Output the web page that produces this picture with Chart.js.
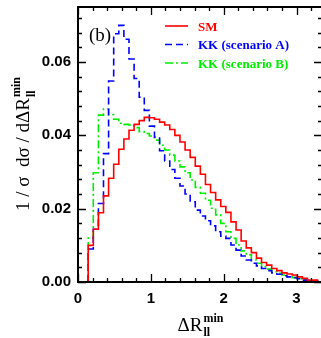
<!DOCTYPE html>
<html>
<head>
<meta charset="utf-8">
<script src="https://cdn.jsdelivr.net/npm/chart.js@4.4.1/dist/chart.umd.min.js"></script>
<style>
html, body { margin: 0; padding: 0; background: #fff; overflow: hidden; }
</style>
</head>
<body>
<canvas id="chart" width="325" height="338"></canvas>
<script>
// histogram bin edges (Delta R_ll^min)
var binEdges = [0.14, 0.21, 0.28, 0.35, 0.42, 0.49, 0.56, 0.63, 0.70, 0.77,
    0.84, 0.91, 0.98, 1.05, 1.12, 1.19, 1.26, 1.33, 1.40, 1.47,
    1.54, 1.61, 1.68, 1.75, 1.82, 1.89, 1.96, 2.03, 2.10, 2.17,
    2.24, 2.31, 2.38, 2.45, 2.52, 2.59, 2.66, 2.73, 2.80, 2.87,
    2.94, 3.01, 3.08, 3.15, 3.22, 3.29];

var smValues = [0.0010, 0.0100, 0.0144, 0.0189, 0.0235, 0.0283, 0.0321, 0.0362, 0.0390, 0.0414,
    0.0430, 0.0440, 0.0449, 0.0448, 0.0444, 0.0436, 0.0428, 0.0416, 0.0400, 0.0382,
    0.0360, 0.0340, 0.0316, 0.0294, 0.0266, 0.0244, 0.0224, 0.0206, 0.0190, 0.0164,
    0.0142, 0.0112, 0.0093, 0.0080, 0.0065, 0.0053, 0.0046, 0.0037, 0.0031, 0.0025,
    0.0022, 0.0019, 0.0014, 0.0010, 0.0005];

var kkAValues = [0.0010, 0.0090, 0.0144, 0.0214, 0.0350, 0.0548, 0.0677, 0.0700, 0.0662, 0.0608,
    0.0555, 0.0504, 0.0468, 0.0425, 0.0395, 0.0358, 0.0330, 0.0307, 0.0283, 0.0262,
    0.0240, 0.0219, 0.0196, 0.0180, 0.0167, 0.0153, 0.0137, 0.0125, 0.0119, 0.0101,
    0.0087, 0.0071, 0.0060, 0.0051, 0.0044, 0.0037, 0.0031, 0.0025, 0.0021, 0.0017,
    0.0014, 0.0012, 0.0009, 0.0005, 0.0003];

var kkBValues = [0.0010, 0.0120, 0.0298, 0.0455, 0.0472, 0.0456, 0.0444, 0.0433, 0.0430, 0.0428,
    0.0421, 0.0410, 0.0405, 0.0398, 0.0387, 0.0373, 0.0360, 0.0346, 0.0330, 0.0314,
    0.0298, 0.0278, 0.0258, 0.0242, 0.0223, 0.0201, 0.0183, 0.0160, 0.0137, 0.0119,
    0.0101, 0.0085, 0.0074, 0.0060, 0.0051, 0.0042, 0.0035, 0.0028, 0.0024, 0.0019,
    0.0014, 0.0012, 0.0009, 0.0005, 0.0003];

var seriesNames = ["SM", "KK (scenario A)", "KK (scenario B)"];
var seriesColors = ["#ff0000", "#0000ff", "#00ee00"];
var seriesDash = [[], [7, 4], [8, 3, 2, 3]];

var xTicks = [0, 1, 2, 3];
var yTicks = [0, 0.02, 0.04, 0.06];

function hist_points(values) {
    // step outline: rise at first edge, drop at last edge
    var pts = [{x: binEdges[0], y: 0}];
    for (var i = 0; i < values.length; i++) {
        pts.push({x: binEdges[i], y: values[i]});
    }
    pts.push({x: binEdges[values.length], y: values[values.length - 1]});
    pts.push({x: binEdges[values.length], y: 0});
    return pts;
}

function make_dataset(idx, values) {
    return {
        label: seriesNames[idx],
        data: hist_points(values),
        borderColor: seriesColors[idx],
        borderWidth: 1.6,
        borderDash: seriesDash[idx],
        stepped: 'after',
        pointRadius: 0,
        fill: false
    };
}

var SERIF = '"Liberation Serif", "Times New Roman", serif';

var framePlugin = {
    id: 'frame',
    afterDraw: function(chart) {
        var ctx = chart.ctx;
        var a = chart.chartArea;
        var xs = chart.scales.x, ys = chart.scales.y;
        ctx.save();
        ctx.strokeStyle = '#000';
        ctx.lineWidth = 1.3;
        // x ticks, inward on bottom and top
        for (var k = 0; k <= 16; k++) {
            var v = k * 0.2;
            var px = Math.round(xs.getPixelForValue(v)) + 0.5;
            var len = (k % 5 == 0) ? 8 : 4;
            ctx.beginPath();
            ctx.moveTo(px, a.bottom); ctx.lineTo(px, a.bottom - len);
            ctx.moveTo(px, a.top); ctx.lineTo(px, a.top + len);
            ctx.stroke();
        }
        // y ticks, inward on left and right
        for (var j = 0; j <= 18; j++) {
            var py = Math.round(ys.getPixelForValue(j * 0.004)) + 0.5;
            var l2 = (j % 5 == 0) ? 8 : 4;
            ctx.beginPath();
            ctx.moveTo(a.left, py); ctx.lineTo(a.left + l2, py);
            ctx.moveTo(a.right, py); ctx.lineTo(a.right - l2, py);
            ctx.stroke();
        }
        ctx.lineWidth = 2;
        ctx.strokeRect(a.left, a.top, a.right - a.left, a.bottom - a.top);

        // panel label
        ctx.fillStyle = '#000';
        ctx.font = '19px ' + SERIF;
        ctx.textBaseline = 'alphabetic';
        ctx.textAlign = 'left';
        ctx.fillText('(b)', 89, 41);

        // legend
        for (var i = 0; i < seriesNames.length; i++) {
            var ly = 26 + i * 18.5;
            ctx.strokeStyle = seriesColors[i];
            ctx.lineWidth = 1.6;
            ctx.setLineDash(seriesDash[i]);
            ctx.beginPath();
            ctx.moveTo(165, ly); ctx.lineTo(188, ly);
            ctx.stroke();
            ctx.setLineDash([]);
            ctx.fillStyle = seriesColors[i];
            ctx.font = 'bold 13px ' + SERIF;
            ctx.fillText(seriesNames[i], 198, ly + 4.5);
        }

        // x axis title: Delta R_ll^min
        ctx.fillStyle = '#000';
        ctx.font = '19px ' + SERIF;
        var main = '\u0394R';
        var w1 = ctx.measureText(main).width;
        ctx.font = 'bold 12px ' + SERIF;
        var w2 = ctx.measureText('min').width;
        var x0 = (a.left + a.right) / 2 - (w1 + w2) / 2;
        ctx.font = '19px ' + SERIF;
        ctx.fillText(main, x0, 331);
        ctx.font = 'bold 12px ' + SERIF;
        ctx.fillText('min', x0 + w1 + 1, 322);
        ctx.fillText('ll', x0 + w1 + 1, 336);

        // y axis title
        ctx.save();
        ctx.translate(29, (a.top + a.bottom) / 2);
        ctx.rotate(-Math.PI / 2);
        ctx.font = '19px ' + SERIF;
        var t = '1 / \u03c3  d\u03c3 / d\u0394R';
        var tw = ctx.measureText(t).width;
        ctx.font = 'bold 12px ' + SERIF;
        var sw = ctx.measureText('min').width;
        var sx = -(tw + sw) / 2;
        ctx.font = '19px ' + SERIF;
        ctx.fillText(t, sx, 0);
        ctx.font = 'bold 12px ' + SERIF;
        ctx.fillText('min', sx + tw + 1, -9);
        ctx.fillText('ll', sx + tw + 1, 6);
        ctx.restore();

        ctx.restore();
    }
};

var ctx = document.getElementById('chart').getContext('2d');
var myChart = new Chart(ctx, {
    type: 'line',
    data: {
        datasets: [make_dataset(0, smValues), make_dataset(1, kkAValues), make_dataset(2, kkBValues)]
    },
    options: {
        responsive: false,
        animation: false,
        layout: { padding: { left: 0, right: 3, top: 7, bottom: 0 } },
        plugins: { legend: { display: false }, tooltip: { enabled: false } },
        scales: {
            x: {
                type: 'linear',
                min: 0,
                max: 3.35,
                grid: { display: false, drawTicks: false },
                border: { display: false },
                afterFit: function(s) {
                    s.height = 56;
                    s.paddingLeft = 0; s.paddingRight = 0;
                },
                afterBuildTicks: function(s) { s.ticks = xTicks.map(function(v) { return {value: v}; }); },
                ticks: {
                    padding: 8,
                    color: '#000',
                    font: { family: '"Liberation Sans", Arial, sans-serif', size: 15, weight: 'bold' },
                    callback: function(v) { return String(v); }
                }
            },
            y: {
                min: 0,
                max: 0.075,
                grid: { display: false, drawTicks: false },
                border: { display: false },
                afterFit: function(s) {
                    s.width = 78;
                    s.paddingTop = 0; s.paddingBottom = 0;
                },
                afterBuildTicks: function(s) { s.ticks = yTicks.map(function(v) { return {value: v}; }); },
                ticks: {
                    padding: 7,
                    color: '#000',
                    font: { family: '"Liberation Sans", Arial, sans-serif', size: 15, weight: 'bold' },
                    callback: function(v) { return v.toFixed(2); }
                }
            }
        }
    },
    plugins: [framePlugin]
});
</script>
</body>
</html>
